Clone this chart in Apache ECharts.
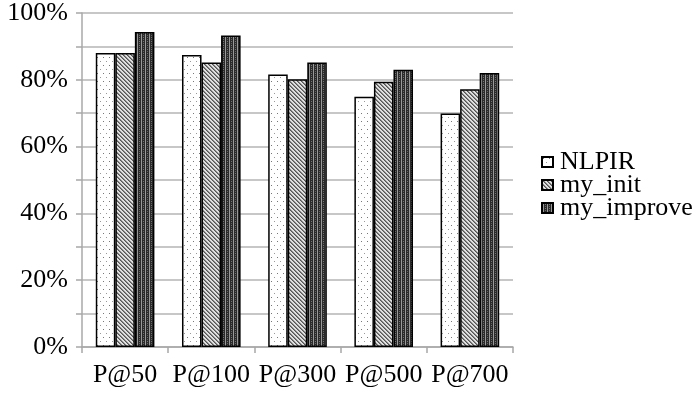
<!DOCTYPE html>
<html><head><meta charset="utf-8">
<script src="https://cdn.jsdelivr.net/npm/echarts@6/dist/echarts.min.js"></script>
<style>html,body{margin:0;padding:0;background:#fff}#c{width:700px;height:393px}</style>
</head><body><div id="c"></div>
<script>
const categories = ['P@50', 'P@100', 'P@300', 'P@500', 'P@700'];
const seriesNames = ['NLPIR', 'my_init', 'my_improve'];
const nlpir = [0.88, 0.874, 0.816, 0.749, 0.699];
const myInit = [0.88, 0.852, 0.802, 0.794, 0.772];
const myImprove = [0.943, 0.933, 0.852, 0.83, 0.82];
const yTicks = [0, 0.2, 0.4, 0.6, 0.8, 1.0];

function tile(w, h, bg, pix) {
  const c = document.createElement('canvas'); c.width = w; c.height = h;
  const g = c.getContext('2d'); g.fillStyle = bg; g.fillRect(0, 0, w, h);
  pix.forEach(p => { g.fillStyle = p[2]; g.fillRect(p[0], p[1], 1, 1); });
  return c;
}
const dotTile = tile(6, 8, '#ffffff', [[1,1,'#777'],[4,5,'#999']]);
const hatchPix = [];
for (let y = 0; y < 4; y++) for (let x = 0; x < 4; x++) {
  const d = ((x - y) % 4 + 4) % 4;
  if (d === 0) hatchPix.push([x, y, '#555']);
  else if (d === 1) hatchPix.push([x, y, '#888']);
  else hatchPix.push([x, y, '#e0e0e0']);
}
const hatchTile = tile(4, 4, '#e0e0e0', hatchPix);
const gridPix = [];
for (let y = 0; y < 4; y++) { gridPix.push([1, y, '#9a9a9a']); }
gridPix.push([3, 1, '#777']); gridPix.push([3, 3, '#666']);
const gridTile = tile(4, 4, '#2b2b2b', gridPix);
const fills = [dotTile, hatchTile, gridTile];
const datas = [nlpir, myInit, myImprove];

const chart = echarts.init(document.getElementById('c'));
const font = 'Liberation Serif';
chart.setOption({
  animation: false,
  textStyle: { fontFamily: font },
  grid: { left: 82, right: 187, top: 12, bottom: 46, containLabel: false },
  legend: {
    orient: 'vertical', left: 541, top: 149, itemGap: -3, padding: 0,
    itemWidth: 11, itemHeight: 10, icon: 'rect',
    textStyle: { fontFamily: font, fontSize: 26, color: '#000', padding: [0,0,0,2] },
    data: seriesNames
  },
  xAxis: {
    type: 'category', data: categories,
    axisLine: { lineStyle: { color: '#a8a8a8', width: 1.5 } },
    axisTick: { show: true, length: 6, lineStyle: { color: '#a8a8a8', width: 1.5 } },
    axisLabel: { fontFamily: font, fontSize: 26, color: '#000', margin: 15, interval: 0 }
  },
  yAxis: {
    type: 'value', min: 0, max: 1, interval: 0.1,
    axisLine: { show: true, lineStyle: { color: '#a8a8a8', width: 1.5 } },
    axisTick: { show: true, length: 6, inside: false, lineStyle: { color: '#a8a8a8', width: 1.5 } },
    splitLine: { lineStyle: { color: '#b4b4b4', width: 1.5 } },
    axisLabel: {
      fontFamily: font, fontSize: 26, color: '#000', margin: 14,
      formatter: v => { const p = Math.round(v * 100); return yTicks.some(t => Math.round(t*100) === p) ? p + '%' : ''; }
    }
  },
  series: seriesNames.map((n, i) => ({
    name: n, type: 'bar', data: datas[i],
    barGap: '0%', barCategoryGap: '32%',
    itemStyle: { color: { image: fills[i], repeat: 'repeat' }, borderColor: '#000', borderWidth: 1.5 }
  }))
});
</script></body></html>
